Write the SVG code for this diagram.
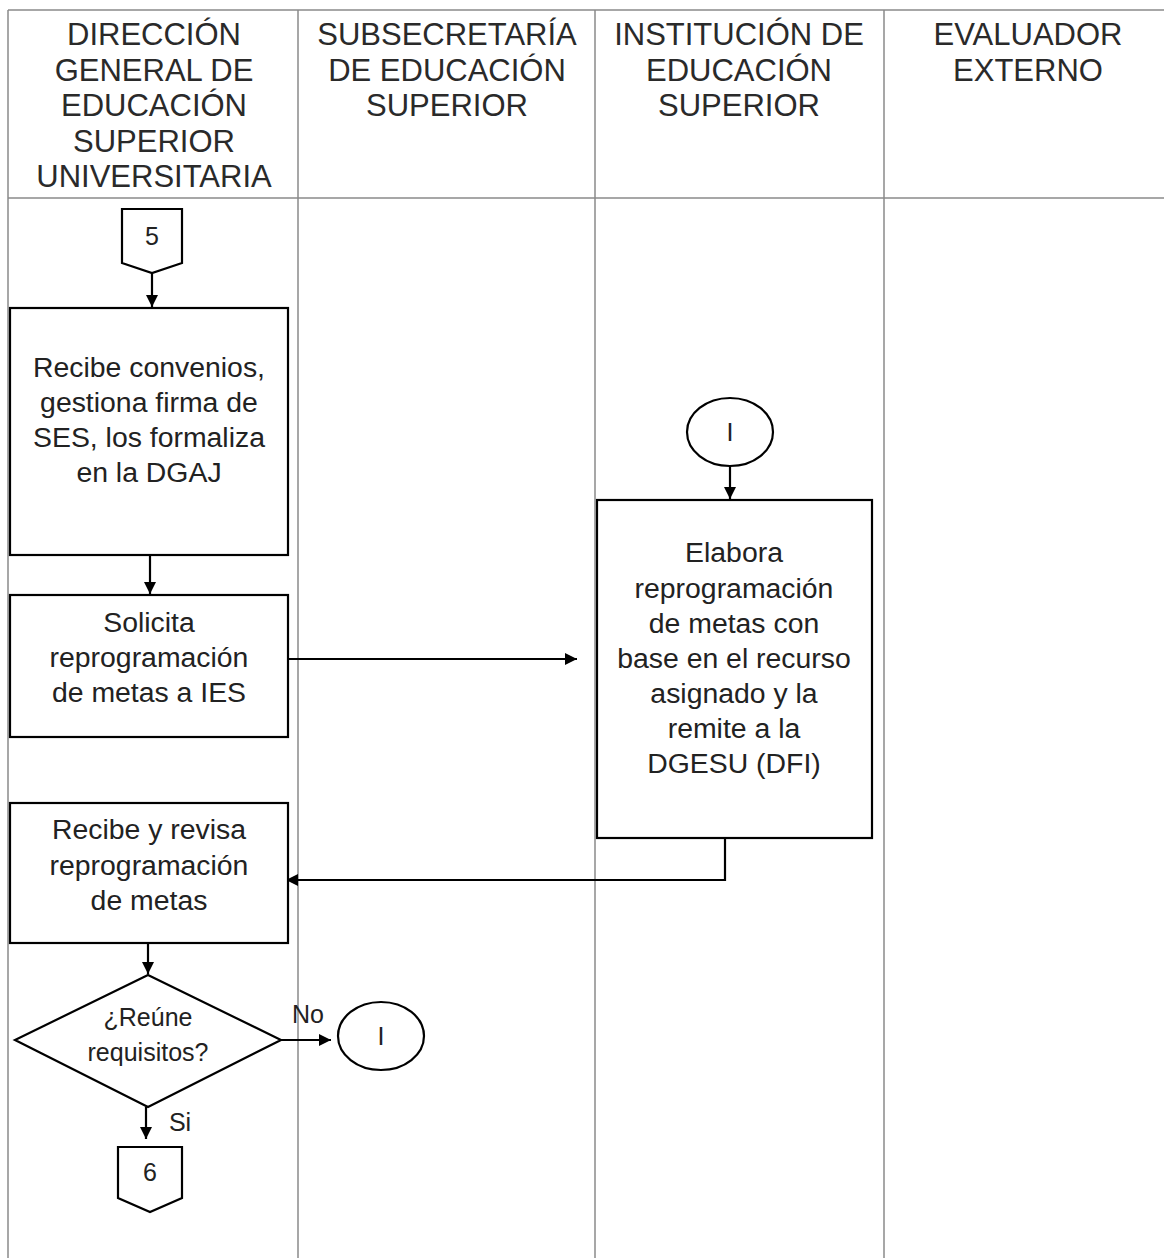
<svg xmlns="http://www.w3.org/2000/svg" width="1164" height="1258" viewBox="0 0 1164 1258">
<defs>
<marker id="ah" viewBox="0 0 10 10" refX="10" refY="5" markerWidth="13" markerHeight="12" markerUnits="userSpaceOnUse" orient="auto"><path d="M0,0 L10,5 L0,10 z" fill="#000"/></marker>
<style>
.lane{stroke:#8a8a8a;stroke-width:1.5;fill:none}
.hdr{font-family:"Liberation Sans",Arial,sans-serif;font-size:31px;fill:#2a2a2a;text-anchor:middle}
.t{font-family:"Liberation Sans",Arial,sans-serif;font-size:28.4px;fill:#222;text-anchor:middle}
.s{font-family:"Liberation Sans",Arial,sans-serif;font-size:25px;fill:#222;text-anchor:middle}
.shape{fill:#fff;stroke:#000;stroke-width:2.2}
.con{stroke:#000;stroke-width:2.2;fill:none;marker-end:url(#ah)}
</style>
</defs>
<rect width="1164" height="1258" fill="#fff"/>
<g id="lanes">
<line class="lane" x1="8" y1="10" x2="1164" y2="10"/>
<line class="lane" x1="8" y1="198" x2="1164" y2="198"/>
<line class="lane" x1="8" y1="10" x2="8" y2="1258"/>
<line class="lane" x1="298" y1="10" x2="298" y2="1258"/>
<line class="lane" x1="595" y1="10" x2="595" y2="1258"/>
<line class="lane" x1="884" y1="10" x2="884" y2="1258"/>
</g>
<g id="headers">
<text class="hdr" x="154"><tspan x="154" y="45">DIRECCIÓN</tspan><tspan x="154" y="81">GENERAL DE</tspan><tspan x="154" y="116">EDUCACIÓN</tspan><tspan x="154" y="152">SUPERIOR</tspan><tspan x="154" y="187">UNIVERSITARIA</tspan></text>
<text class="hdr" x="447"><tspan x="447" y="45">SUBSECRETARÍA</tspan><tspan x="447" y="81">DE EDUCACIÓN</tspan><tspan x="447" y="116">SUPERIOR</tspan></text>
<text class="hdr" x="739"><tspan x="739" y="45">INSTITUCIÓN DE</tspan><tspan x="739" y="81">EDUCACIÓN</tspan><tspan x="739" y="116">SUPERIOR</tspan></text>
<text class="hdr" x="1028"><tspan x="1028" y="45">EVALUADOR</tspan><tspan x="1028" y="81">EXTERNO</tspan></text>
</g>
<g id="connectors">
<line class="con" x1="152" y1="273" x2="152" y2="307"/>
<line class="con" x1="150" y1="555" x2="150" y2="594"/>
<line class="con" x1="288" y1="659" x2="577" y2="659"/>
<line class="con" x1="730" y1="466" x2="730" y2="499"/>
<polyline class="con" points="725,838 725,880 286,880"/>
<line class="con" x1="148" y1="943" x2="148" y2="974"/>
<line class="con" x1="281" y1="1040" x2="331" y2="1040"/>
<line class="con" x1="146" y1="1107" x2="146" y2="1139"/>
<text class="s" x="308" y="1023">No</text>
<text class="s" x="180" y="1131">Si</text>
</g>
<g id="offpage5">
<path class="shape" d="M122,209 H182 V263 L152,273 L122,263 Z"/>
<text class="s" x="152" y="245" font-size="23">5</text>
</g>
<g id="recibe-convenios">
<rect class="shape" x="10" y="308" width="278" height="247"/>
<text class="t"><tspan x="149" y="377">Recibe convenios,</tspan><tspan x="149" y="412">gestiona firma de</tspan><tspan x="149" y="447">SES, los formaliza</tspan><tspan x="149" y="482">en la DGAJ</tspan></text>
</g>
<g id="solicita">
<rect class="shape" x="10" y="595" width="278" height="142"/>
<text class="t"><tspan x="149" y="632">Solicita</tspan><tspan x="149" y="667">reprogramación</tspan><tspan x="149" y="702">de metas a IES</tspan></text>
</g>
<g id="conector-i-top">
<ellipse class="shape" cx="730" cy="432" rx="43" ry="34"/>
<text class="s" x="730" y="441">I</text>
</g>
<g id="elabora">
<rect class="shape" x="597" y="500" width="275" height="338"/>
<text class="t"><tspan x="734" y="562">Elabora</tspan><tspan x="734" y="598">reprogramación</tspan><tspan x="734" y="633">de metas con</tspan><tspan x="734" y="668">base en el recurso</tspan><tspan x="734" y="703">asignado y la</tspan><tspan x="734" y="738">remite a la</tspan><tspan x="734" y="773">DGESU (DFI)</tspan></text>
</g>
<g id="recibe-revisa">
<rect class="shape" x="10" y="803" width="278" height="140"/>
<text class="t"><tspan x="149" y="839">Recibe y revisa</tspan><tspan x="149" y="875">reprogramación</tspan><tspan x="149" y="910">de metas</tspan></text>
</g>
<g id="decision">
<path class="shape" d="M148,975 L281,1040 L148,1107 L15,1040 Z"/>
<text class="s"><tspan x="148" y="1026">¿Reúne</tspan><tspan x="148" y="1061">requisitos?</tspan></text>
</g>
<g id="conector-i-bottom">
<ellipse class="shape" cx="381" cy="1036" rx="43" ry="34"/>
<text class="s" x="381" y="1045">I</text>
</g>
<g id="offpage6">
<path class="shape" d="M118,1147 H182 V1198 L150,1212 L118,1198 Z"/>
<text class="s" x="150" y="1181" font-size="23">6</text>
</g>
</svg>
